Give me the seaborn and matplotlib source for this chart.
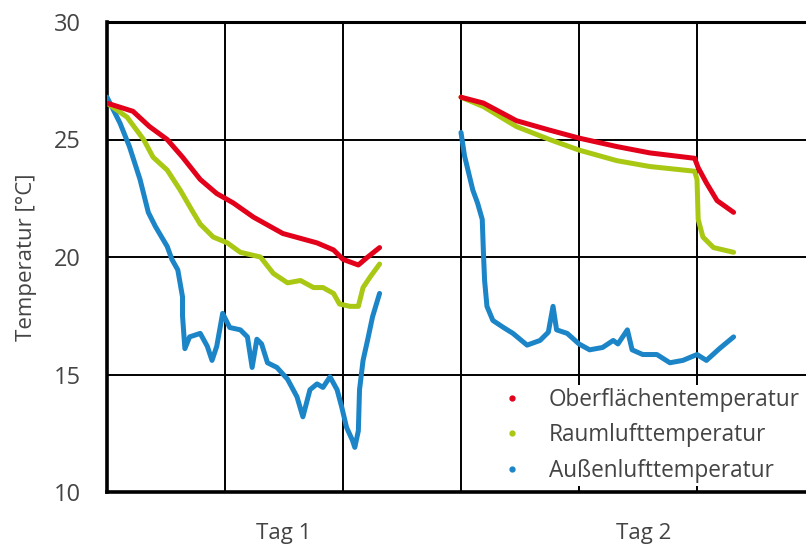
import pandas as pd
import matplotlib
matplotlib.use('Agg')
import matplotlib.pyplot as plt
import seaborn as sns
from matplotlib.lines import Line2D

sns.set_style('white')
plt.rcParams['font.family'] = ['Open Sans', 'DejaVu Sans']

# x in grid units (one vertical grid cell = 1)
ober_t1_x = [0.00, 0.03, 0.22, 0.36, 0.51, 0.64, 0.79, 0.93, 1.07, 1.24, 1.49, 1.78, 1.92, 2.00, 2.13, 2.20, 2.31]
ober_t1_y = [26.55, 26.5, 26.2, 25.55, 25.0, 24.25, 23.3, 22.7, 22.3, 21.7, 21.0, 20.6, 20.3, 19.9, 19.66, 19.96, 20.4]
ober_t2_x = [3.00, 3.19, 3.47, 3.75, 4.00, 4.32, 4.60, 4.98, 5.01, 5.08, 5.17, 5.31]
ober_t2_y = [26.8, 26.55, 25.8, 25.4, 25.06, 24.7, 24.43, 24.2, 23.8, 23.15, 22.4, 21.9]

raum_t1_x = [0.00, 0.17, 0.31, 0.39, 0.51, 0.62, 0.73, 0.79, 0.90, 1.02, 1.13, 1.30, 1.41, 1.53,
             1.64, 1.75, 1.83, 1.92, 1.97, 2.06, 2.13, 2.17, 2.23, 2.31]
raum_t1_y = [26.55, 25.95, 25.0, 24.25, 23.7, 22.85, 21.9, 21.4, 20.85, 20.6, 20.2, 20.0, 19.3, 18.9,
             19.0, 18.7, 18.7, 18.45, 18.0, 17.9, 17.9, 18.7, 19.15, 19.7]
raum_t2_x = [3.00, 3.19, 3.47, 3.75, 4.00, 4.32, 4.60, 4.98, 5.00, 5.01, 5.05, 5.14, 5.31]
raum_t2_y = [26.8, 26.4, 25.55, 25.0, 24.55, 24.1, 23.85, 23.65, 23.3, 21.6, 20.85, 20.4, 20.2]

aussen_t1_x = [0.00, 0.11, 0.19, 0.28, 0.35, 0.41, 0.51, 0.55, 0.60, 0.64, 0.64, 0.66, 0.70, 0.79,
               0.85, 0.89, 0.93, 0.98, 1.04, 1.13, 1.19, 1.23, 1.27, 1.31, 1.36, 1.44, 1.53, 1.61,
               1.66, 1.72, 1.78, 1.83, 1.89, 1.95, 1.99, 2.03, 2.08, 2.10, 2.13, 2.14, 2.17, 2.21,
               2.25, 2.31]
aussen_t1_y = [26.8, 25.7, 24.7, 23.3, 21.9, 21.3, 20.45, 19.9, 19.45, 18.3, 17.5, 16.1, 16.6, 16.75,
               16.2, 15.6, 16.2, 17.6, 17.0, 16.9, 16.6, 15.3, 16.5, 16.3, 15.5, 15.3, 14.8, 14.05,
               13.2, 14.35, 14.6, 14.45, 14.9, 14.35, 13.6, 12.75, 12.2, 11.9, 12.6, 14.35, 15.6, 16.5,
               17.45, 18.45]
aussen_t2_x = [3.00, 3.03, 3.10, 3.14, 3.18, 3.19, 3.20, 3.22, 3.27, 3.36, 3.44, 3.56, 3.67, 3.74,
               3.78, 3.81, 3.90, 4.00, 4.09, 4.20, 4.29, 4.33, 4.41, 4.45, 4.54, 4.66, 4.77, 4.88,
               5.00, 5.08, 5.19, 5.31]
aussen_t2_y = [25.3, 24.3, 22.85, 22.3, 21.6, 20.2, 19.0, 17.9, 17.3, 17.0, 16.75, 16.25, 16.45, 16.8,
               17.9, 16.9, 16.75, 16.3, 16.05, 16.15, 16.45, 16.3, 16.9, 16.05, 15.85, 15.85, 15.5, 15.6,
               15.85, 15.6, 16.1, 16.6]

series = ['Oberflächentemperatur', 'Raumlufttemperatur', 'Außenlufttemperatur']
colors = {'Oberflächentemperatur': '#e2001a',
          'Raumlufttemperatur': '#a9c814',
          'Außenlufttemperatur': '#1b85c7'}
day_labels = ['Tag 1', 'Tag 2']
day_pos = [1.5, 4.55]

parts = [
    ('Oberflächentemperatur', 1, ober_t1_x, ober_t1_y),
    ('Oberflächentemperatur', 2, ober_t2_x, ober_t2_y),
    ('Raumlufttemperatur', 1, raum_t1_x, raum_t1_y),
    ('Raumlufttemperatur', 2, raum_t2_x, raum_t2_y),
    ('Außenlufttemperatur', 1, aussen_t1_x, aussen_t1_y),
    ('Außenlufttemperatur', 2, aussen_t2_x, aussen_t2_y),
]
df = pd.concat([pd.DataFrame({'x': xs, 'T': ys, 'series': s, 'tag': t}) for s, t, xs, ys in parts],
               ignore_index=True)

fig = plt.figure(figsize=(8.06, 5.47), dpi=100)
ax = fig.add_axes([107 / 806, 1 - 492 / 547, 1 - 107 / 806, 470 / 547])

# blue first so that green and red lie on top
for s in reversed(series):
    sns.lineplot(data=df[df['series'] == s], x='x', y='T', units='tag', estimator=None,
                 color=colors[s], linewidth=3.6, sort=False, ax=ax, zorder=3, legend=False)

ax.set_xlim(0, (806 - 107) / 118)
ax.set_ylim(10, 30)
ax.set_yticks([10, 15, 20, 25, 30])
ax.set_xticks(day_pos)
ax.set_xticklabels(day_labels)
ax.set_xticks(range(0, 6), minor=True)
ax.grid(False)
ax.grid(True, which='minor', axis='x', color='black', linewidth=1.4)
ax.grid(True, which='major', axis='y', color='black', linewidth=1.4)
ax.tick_params(which='both', length=0)
ax.tick_params(axis='y', pad=19, labelsize=17, labelcolor='#444444')
ax.tick_params(axis='x', pad=22, labelsize=16, labelcolor='#444444')
ax.set_xlabel('')
ax.set_ylabel('Temperatur [°C]', fontsize=16, color='#444444', labelpad=12)

for side in ['left', 'bottom']:
    ax.spines[side].set_linewidth(2.6)
    ax.spines[side].set_color('black')
ax.spines['top'].set_linewidth(2.2)
ax.spines['top'].set_color('black')
ax.spines['right'].set_visible(False)
ax.set_axisbelow(True)

handles = [Line2D([], [], marker='o', linestyle='', markersize=3.5, color=colors[s]) for s in series]
leg = ax.legend(handles, series, loc='lower right', bbox_to_anchor=(0.999, 0.008), frameon=True,
                fontsize=16.3, handlelength=1.2, handletextpad=1.0, labelspacing=0.5, borderpad=0.15,
                borderaxespad=0.1, labelcolor='#444444')
leg.get_frame().set_facecolor('white')
leg.get_frame().set_edgecolor('white')
leg.get_frame().set_alpha(1)
leg.get_frame().set_linewidth(0)

fig.savefig('out.png', dpi=100)
